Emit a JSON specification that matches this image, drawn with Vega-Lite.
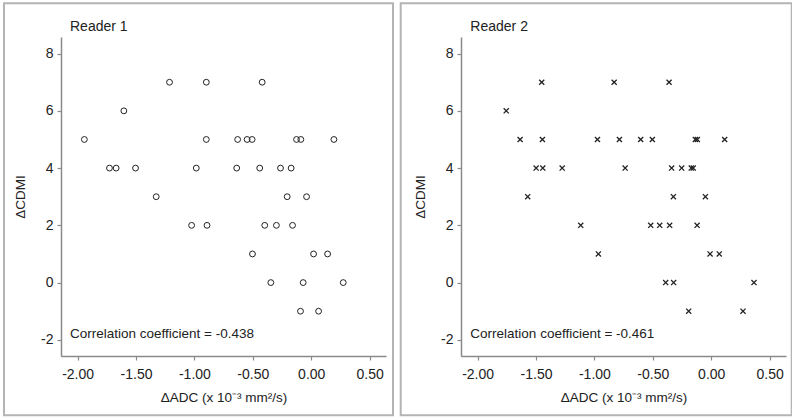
{
  "$schema": "https://vega.github.io/schema/vega-lite/v6.json",
  "background": "white",
  "padding": {"left": 2, "top": 2, "right": 0, "bottom": 0},
  "spacing": 4,
  "config": {
    "view": {"stroke": null},
    "axis": {
      "grid": false,
      "domainColor": "#8a8a8a",
      "domainWidth": 1.5,
      "tickColor": "#8a8a8a",
      "tickWidth": 1.2,
      "tickSize": 4,
      "labelFont": "Liberation Sans",
      "labelFontSize": 14,
      "labelColor": "#222",
      "titleFont": "Liberation Sans",
      "titleFontSize": 13.5,
      "titleFontWeight": "normal",
      "titleColor": "#222"
    }
  },
  "hconcat": [
    {
      "width": 325,
      "height": 319,
      "layer": [
        {
          "data": {"values": [{}]},
          "mark": {"type": "rect", "fill": null, "stroke": "#b4b4b4", "strokeWidth": 2},
          "encoding": {
            "x": {"datum": -2.630, "type": "quantitative"},
            "x2": {"datum": 0.700},
            "y": {"datum": 9.757, "type": "quantitative"},
            "y2": {"datum": -4.637}
          }
        },
        {
          "data": {"values": [
            {"adc": -1.942, "cdmi": 5}, {"adc": -1.727, "cdmi": 4}, {"adc": -1.670, "cdmi": 4},
            {"adc": -1.604, "cdmi": 6}, {"adc": -1.504, "cdmi": 4}, {"adc": -1.327, "cdmi": 3},
            {"adc": -1.213, "cdmi": 7}, {"adc": -0.984, "cdmi": 4}, {"adc": -0.898, "cdmi": 7},
            {"adc": -0.898, "cdmi": 5}, {"adc": -0.638, "cdmi": 4}, {"adc": -0.630, "cdmi": 5},
            {"adc": -0.549, "cdmi": 5}, {"adc": -0.506, "cdmi": 5}, {"adc": -0.441, "cdmi": 4},
            {"adc": -0.420, "cdmi": 7}, {"adc": -0.263, "cdmi": 4}, {"adc": -0.206, "cdmi": 3},
            {"adc": -0.172, "cdmi": 4}, {"adc": -0.126, "cdmi": 5}, {"adc": -0.089, "cdmi": 5},
            {"adc": -0.040, "cdmi": 3}, {"adc": 0.194, "cdmi": 5}, {"adc": -1.024, "cdmi": 2},
            {"adc": -0.892, "cdmi": 2}, {"adc": -0.398, "cdmi": 2}, {"adc": -0.298, "cdmi": 2},
            {"adc": -0.160, "cdmi": 2}, {"adc": -0.503, "cdmi": 1}, {"adc": 0.020, "cdmi": 1},
            {"adc": 0.140, "cdmi": 1}, {"adc": -0.346, "cdmi": 0}, {"adc": -0.069, "cdmi": 0},
            {"adc": 0.274, "cdmi": 0}, {"adc": -0.092, "cdmi": -1}, {"adc": 0.063, "cdmi": -1}
          ]},
          "mark": {"type": "point", "shape": "circle", "filled": false, "size": 34, "stroke": "#222", "strokeWidth": 1, "opacity": 1},
          "encoding": {
            "x": {"field": "adc", "type": "quantitative",
              "scale": {"domain": [-2.142, 0.64], "nice": false, "zero": false},
              "axis": {"title": "ΔADC (x 10⁻³ mm²/s)", "values": [-2, -1.5, -1, -0.5, 0, 0.5],
                "labelExpr": "replace(format(datum.value, '.2f'), '\u2212', '-')", "labelPadding": 7, "titlePadding": 9}},
            "y": {"field": "cdmi", "type": "quantitative",
              "scale": {"domain": [-2.565, 8.58], "nice": false, "zero": false},
              "axis": {"title": "ΔCDMI", "values": [-2, 0, 2, 4, 6, 8],
                "labelExpr": "replace(format(datum.value, 'd'), '\u2212', '-')", "labelPadding": 4, "titlePadding": 13}}
          }
        },
        {
          "data": {"values": [{}]},
          "mark": {"type": "text", "align": "left", "baseline": "alphabetic", "font": "Liberation Sans", "fontSize": 14, "fill": "#222", "text": "Reader 1"},
          "encoding": {"x": {"datum": -2.065}, "y": {"datum": 8.79}}
        },
        {
          "data": {"values": [{}]},
          "mark": {"type": "text", "align": "left", "baseline": "alphabetic", "font": "Liberation Sans", "fontSize": 13.5, "fill": "#222", "text": "Correlation coefficient = -0.438"},
          "encoding": {"x": {"datum": -2.065}, "y": {"datum": -1.922}}
        }
      ]
    },
    {
      "width": 325,
      "height": 319,
      "layer": [
        {
          "data": {"values": [{}]},
          "mark": {"type": "rect", "fill": null, "stroke": "#b4b4b4", "strokeWidth": 2},
          "encoding": {
            "x": {"datum": -2.658, "type": "quantitative"},
            "x2": {"datum": 0.689},
            "y": {"datum": 9.757, "type": "quantitative"},
            "y2": {"datum": -4.637}
          }
        },
        {
          "data": {"values": [
            {"adc": -1.755, "cdmi": 6}, {"adc": -1.636, "cdmi": 5}, {"adc": -1.445, "cdmi": 5},
            {"adc": -1.451, "cdmi": 7}, {"adc": -1.499, "cdmi": 4}, {"adc": -1.442, "cdmi": 4},
            {"adc": -1.571, "cdmi": 3}, {"adc": -1.276, "cdmi": 4}, {"adc": -0.974, "cdmi": 5},
            {"adc": -0.831, "cdmi": 7}, {"adc": -0.786, "cdmi": 5}, {"adc": -0.737, "cdmi": 4},
            {"adc": -0.604, "cdmi": 5}, {"adc": -0.504, "cdmi": 5}, {"adc": -0.361, "cdmi": 7},
            {"adc": -0.339, "cdmi": 4}, {"adc": -0.324, "cdmi": 3}, {"adc": -0.253, "cdmi": 4},
            {"adc": -0.171, "cdmi": 4}, {"adc": -0.154, "cdmi": 4}, {"adc": -0.136, "cdmi": 5},
            {"adc": -0.119, "cdmi": 5}, {"adc": -0.050, "cdmi": 3}, {"adc": 0.115, "cdmi": 5},
            {"adc": -1.117, "cdmi": 2}, {"adc": -0.966, "cdmi": 1}, {"adc": -0.518, "cdmi": 2},
            {"adc": -0.441, "cdmi": 2}, {"adc": -0.356, "cdmi": 2}, {"adc": -0.121, "cdmi": 2},
            {"adc": -0.010, "cdmi": 1}, {"adc": 0.069, "cdmi": 1}, {"adc": -0.390, "cdmi": 0},
            {"adc": -0.322, "cdmi": 0}, {"adc": 0.366, "cdmi": 0}, {"adc": -0.193, "cdmi": -1},
            {"adc": 0.272, "cdmi": -1}
          ]},
          "mark": {"type": "point", "shape": "M-1,-1L1,1M-1,1L1,-1", "filled": false, "size": 26, "stroke": "#222", "strokeWidth": 1.3, "opacity": 1},
          "encoding": {
            "x": {"field": "adc", "type": "quantitative",
              "scale": {"domain": [-2.142, 0.64], "nice": false, "zero": false},
              "axis": {"title": "ΔADC (x 10⁻³ mm²/s)", "values": [-2, -1.5, -1, -0.5, 0, 0.5],
                "labelExpr": "replace(format(datum.value, '.2f'), '\u2212', '-')", "labelPadding": 7, "titlePadding": 9}},
            "y": {"field": "cdmi", "type": "quantitative",
              "scale": {"domain": [-2.565, 8.58], "nice": false, "zero": false},
              "axis": {"title": "ΔCDMI", "values": [-2, 0, 2, 4, 6, 8],
                "labelExpr": "replace(format(datum.value, 'd'), '\u2212', '-')", "labelPadding": 4, "titlePadding": 13}}
          }
        },
        {
          "data": {"values": [{}]},
          "mark": {"type": "text", "align": "left", "baseline": "alphabetic", "font": "Liberation Sans", "fontSize": 14, "fill": "#222", "text": "Reader 2"},
          "encoding": {"x": {"datum": -2.062}, "y": {"datum": 8.79}}
        },
        {
          "data": {"values": [{}]},
          "mark": {"type": "text", "align": "left", "baseline": "alphabetic", "font": "Liberation Sans", "fontSize": 13.5, "fill": "#222", "text": "Correlation coefficient = -0.461"},
          "encoding": {"x": {"datum": -2.062}, "y": {"datum": -1.922}}
        }
      ]
    }
  ]
}
